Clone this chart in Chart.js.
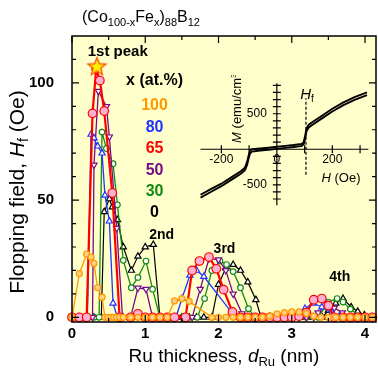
<!DOCTYPE html>
<html>
<head>
<meta charset="utf-8">
<script src="https://cdn.jsdelivr.net/npm/chart.js@4.4.0/dist/chart.umd.min.js"></script>
<style>
html, body { margin: 0; padding: 0; background: #fff; }
#wrap { position: relative; width: 378px; height: 371px; }
#main { position: absolute; left: 0; top: 0; }
#inset { position: absolute; left: 200px; top: 75px; }
</style>
</head>
<body>
<div id="wrap">
<canvas id="main" width="378" height="371"></canvas>
<canvas id="inset" width="172" height="132"></canvas>
</div>
<script>
var FONT = 'Arial, "Liberation Sans", Helvetica, sans-serif';

// Ru thickness d (nm) and flopping field Hf (Oe), one pair per Fe content x (at.%)
var d100 = [0, 0.1, 0.2, 0.26, 0.3, 0.35, 0.41, 0.45, 0.49, 0.53, 0.57, 0.61, 0.65, 0.7, 0.8, 0.9, 1.0, 1.1, 1.2, 1.3, 1.4, 1.5, 1.6, 1.91, 2.0, 2.1, 2.2, 2.3, 2.4, 2.5, 2.6, 2.7, 2.8, 2.9, 3.0, 3.1, 3.2, 3.3, 3.4, 3.5, 3.6, 3.7, 3.8, 3.9, 4.0, 4.1];
var h100 = [0, 18.6, 27, 25.7, 23, 12.6, 8.6, 0, 0, 0, 0, 0, 0, 0, 0, 0, 0, 0, 0, 0, 7, 8, 6.8, 0, 0, 0, 0, 0, 0, 0, 0, 0.5, 1.5, 2, 2.3, 2.3, 1.6, 0.5, 0, 0, 0, 0, 0, 0, 0, 0];

var d80 = [0, 0.1, 0.21, 0.26, 0.3, 0.35, 0.41, 0.45, 0.51, 0.56, 0.62, 0.7, 0.8, 0.9, 1.0, 1.1, 1.2, 1.33, 1.42, 1.5, 1.61, 1.7, 1.8, 2.19, 2.3, 2.4, 2.5, 2.6, 2.7, 2.8, 2.9, 3.0, 3.1, 3.18, 3.29, 3.41, 3.55, 3.65, 3.8, 3.9, 4.0, 4.1];
var h80 = [0, 0, 0, 78, 76.5, 73, 70, 52, 41, 6, 0, 0, 0, 0, 0, 0, 0, 0, 0, 8, 17.9, 20, 17.4, 1.6, 0, 0, 0, 0, 0, 0, 0, 0.5, 1.5, 3.7, 6, 4.4, 2, 0.5, 0, 0, 0, 0];

var d65 = [0, 0.1, 0.2, 0.28, 0.33, 0.38, 0.44, 0.55, 0.65, 0.8, 0.9, 1.0, 1.1, 1.2, 1.3, 1.4, 1.55, 1.64, 1.74, 1.87, 1.97, 2.07, 2.19, 2.3, 2.4, 2.5, 2.6, 2.7, 2.8, 2.9, 3.0, 3.1, 3.2, 3.3, 3.41, 3.5, 3.58, 3.7, 3.8, 3.9, 4.0, 4.1];
var h65 = [0, 0, 0, 87, 106, 101, 88, 53, 0, 0, 1.5, 0, 0, 0, 0, 0, 0, 20, 24, 25.7, 20.7, 11.8, 2.3, 0, 0, 0, 0, 0, 0, 0, 0, 0.5, 2, 7.5, 8, 5, 0, 0, 0, 0, 0, 0];

var d50 = [0, 0.1, 0.2, 0.28, 0.3, 0.36, 0.47, 0.51, 0.61, 0.69, 0.8, 0.9, 1.01, 1.1, 1.2, 1.3, 1.4, 1.5, 1.64, 1.75, 1.87, 2.0, 2.1, 2.2, 2.32, 2.4, 2.5, 2.6, 2.7, 2.8, 2.9, 3.0, 3.1, 3.2, 3.3, 3.36, 3.47, 3.58, 3.69, 3.8, 3.9, 4.0, 4.1];
var h50 = [0, 0, 0, 0, 65, 96.5, 90, 77, 38, 0, 0, 12.5, 12, 0, 0, 0, 0, 0, 0, 12, 25, 24.6, 20, 10, 1.6, 0, 0, 0, 0, 0, 0, 0, 0, 0, 0, 2, 6, 4, 2, 0, 0, 0, 0];

var d30 = [0, 0.1, 0.2, 0.3, 0.37, 0.41, 0.47, 0.56, 0.62, 0.7, 0.81, 0.9, 1.01, 1.1, 1.2, 1.3, 1.4, 1.5, 1.6, 1.71, 1.81, 1.91, 2.02, 2.11, 2.2, 2.3, 2.41, 2.5, 2.6, 2.7, 2.8, 2.9, 3.0, 3.1, 3.2, 3.36, 3.5, 3.62, 3.7, 3.8, 3.94, 4.0, 4.1];
var h30 = [0, 0, 0, 0, 0, 79, 72, 65.5, 48, 24.3, 12.6, 17, 24, 12, 0, 0, 0, 0, 0, 0, 8, 20, 24, 22.5, 19.5, 12.6, 3.7, 0, 0, 0, 0, 0, 0, 0, 0, 0, 6.5, 8, 6.5, 3.5, 0, 0, 0];

var d0 = [0, 0.1, 0.2, 0.3, 0.4, 0.44, 0.51, 0.55, 0.62, 0.7, 0.81, 0.9, 1.0, 1.11, 1.2, 1.3, 1.4, 1.5, 1.6, 1.7, 1.8, 1.91, 2.0, 2.1, 2.2, 2.3, 2.4, 2.51, 2.58, 2.7, 2.8, 2.9, 3.0, 3.1, 3.2, 3.3, 3.42, 3.5, 3.6, 3.7, 3.81, 3.9, 3.99, 4.1];
var h0 = [0, 0, 0, 0, 0, 45, 50.5, 47, 41.6, 30, 20, 26, 30, 31, 0, 0, 0, 0, 0, 0, 0, 0, 14, 21, 22.5, 20, 15, 7.5, 0, 0, 0, 0, 0, 0, 0, 0, 0, 3, 6, 8, 4.4, 2.5, 1, 0];

// 1st peak marker
var starD = [0.34];
var starH = [107];

var xTicks = [0, 1, 2, 3, 4];
var yTicks = [0, 50, 100];

// inset: M-H loop, H (Oe) vs M (emu/cm3), two branches
var loopH = [-275, -240, -200, -160, -130, -115, -107, -102, -97, -90, -60, -30, 0, 30, 60, 90, 97, 102, 107, 115, 130, 160, 200, 240, 280, 325];
var loopUp = [-640, -565, -485, -385, -310, -258, -175, -90, -22, 0, 10, 22, 35, 48, 60, 76, 103, 190, 295, 345, 388, 465, 570, 660, 735, 800];
var loopDown = [-680, -605, -520, -420, -345, -295, -218, -132, -62, -32, -18, -6, 6, 19, 32, 48, 74, 152, 255, 308, 350, 428, 532, 622, 697, 762];
var hfH = [105, 105];
var hfM = [-360, 720];
var insetHTicks = [-200, 0, 200];
var insetMTicks = [500, -500];

var ORANGE = '#ff9900', BLUE = '#2233ff', RED = '#ff0000', PURPLE = '#770a88', GREEN = '#138a13', BLACK = '#000000';

function pts(d, h) {
	return d.map(function(v, i) { return { x: v, y: h[i] }; });
}

function series(d, h, color, fill, style, radius, width, rot, order) {
	return {
		data: pts(d, h), showLine: true, borderColor: color, borderWidth: width,
		pointStyle: style, pointRadius: radius, pointRotation: rot,
		pointBackgroundColor: fill, pointBorderColor: color, pointBorderWidth: 1.2,
		order: order, clip: false
	};
}

function makeStar() {
	var c = document.createElement('canvas');
	c.width = 22; c.height = 22;
	var g = c.getContext('2d');
	g.beginPath();
	for (var i = 0; i < 10; i++) {
		var r = i % 2 ? 4 : 9.5, a = -Math.PI / 2 + i * Math.PI / 5;
		g.lineTo(11 + r * Math.cos(a), 11.5 + r * Math.sin(a));
	}
	g.closePath();
	g.fillStyle = '#ffee00'; g.fill();
	g.strokeStyle = '#ff5500'; g.lineWidth = 1.3; g.stroke();
	return c;
}

// draws a run of text pieces with their own fonts (italic letters, subscripts)
function richText(ctx, parts, x, y, center) {
	var total = 0;
	parts.forEach(function(p) { ctx.font = p.f; p.w = ctx.measureText(p.t).width; total += p.w; });
	var cx = center ? x - total / 2 : x;
	ctx.textAlign = 'left';
	ctx.textBaseline = 'alphabetic';
	parts.forEach(function(p) { ctx.font = p.f; ctx.fillText(p.t, cx, y + (p.dy || 0)); cx += p.w; });
}

var notes = [
	{ t: 'x (at.%)', d: 1.127, h: 100.9, c: BLACK, s: 16 },
	{ t: '100', d: 1.127, h: 90.3, c: ORANGE, s: 16 },
	{ t: '80', d: 1.127, h: 81.0, c: BLUE, s: 16 },
	{ t: '65', d: 1.127, h: 71.8, c: RED, s: 16 },
	{ t: '50', d: 1.127, h: 62.6, c: PURPLE, s: 16 },
	{ t: '30', d: 1.127, h: 53.6, c: GREEN, s: 16 },
	{ t: '0', d: 1.127, h: 44.5, c: BLACK, s: 16 },
	{ t: '1st peak', d: 0.625, h: 113.2, c: BLACK, s: 15 },
	{ t: '2nd', d: 1.223, h: 34.9, c: BLACK, s: 14 },
	{ t: '3rd', d: 2.082, h: 29.1, c: BLACK, s: 14 },
	{ t: '4th', d: 3.656, h: 17.0, c: BLACK, s: 14 }
];

var mainDeco = {
	id: 'mainDeco',
	beforeDraw: function(chart) {
		var a = chart.chartArea, ctx = chart.ctx;
		ctx.save();
		ctx.fillStyle = '#ffffcc';
		ctx.fillRect(a.left, a.top, a.right - a.left, a.bottom - a.top);
		ctx.restore();
	},
	afterDatasetsDraw: function(chart) {
		var a = chart.chartArea, ctx = chart.ctx, xs = chart.scales.x, ys = chart.scales.y;
		ctx.save();
		ctx.strokeStyle = '#000';
		ctx.lineWidth = 1.5;
		ctx.strokeRect(a.left, a.top, a.right - a.left, a.bottom - a.top);
		ctx.lineWidth = 1.2;
		ctx.beginPath();
		for (var v = 0; v <= 4.001; v += 0.5) {
			var px = xs.getPixelForValue(v), len = Math.abs(v - Math.round(v)) < 1e-6 ? 7 : 4;
			ctx.moveTo(px, a.top); ctx.lineTo(px, a.top + len);
			ctx.moveTo(px, a.bottom); ctx.lineTo(px, a.bottom - len);
		}
		for (var w = 0; w <= 110; w += 10) {
			var py = ys.getPixelForValue(w), l2 = w % 50 === 0 ? 7 : 4;
			ctx.moveTo(a.left, py); ctx.lineTo(a.left + l2, py);
			ctx.moveTo(a.right, py); ctx.lineTo(a.right - l2, py);
		}
		ctx.stroke();
		ctx.restore();
	},
	afterDraw: function(chart) {
		var a = chart.chartArea, ctx = chart.ctx, xs = chart.scales.x, ys = chart.scales.y;
		var N = '19px ' + FONT, I = 'italic 19px ' + FONT, S = '13px ' + FONT;
		ctx.save();
		ctx.fillStyle = '#000';
		// composition above the plot
		var T = '16px ' + FONT, TS = '11px ' + FONT;
		richText(ctx, [
			{ t: '(Co', f: T }, { t: '100-x', f: TS, dy: 4 }, { t: 'Fe', f: T }, { t: 'x', f: TS, dy: 4 },
			{ t: ')', f: T }, { t: '88', f: TS, dy: 4 }, { t: 'B', f: T }, { t: '12', f: TS, dy: 4 }
		], 82, 22, false);
		// x title
		richText(ctx, [
			{ t: 'Ru thickness, ', f: N }, { t: 'd', f: I }, { t: 'Ru', f: S, dy: 4 }, { t: ' (nm)', f: N }
		], (a.left + a.right) / 2, 362, true);
		// y title
		var YN = '21px ' + FONT, YI = 'italic 21px ' + FONT, YS = '14px ' + FONT;
		ctx.save();
		ctx.translate(24, 192);
		ctx.rotate(-Math.PI / 2);
		richText(ctx, [
			{ t: 'Flopping field, ', f: YN }, { t: 'H', f: YI }, { t: 'f', f: YS, dy: 4 }, { t: ' (Oe)', f: YN }
		], 0, 0, true);
		ctx.restore();
		// labels inside the plot
		ctx.textAlign = 'center';
		ctx.textBaseline = 'middle';
		notes.forEach(function(n) {
			ctx.font = 'bold ' + n.s + 'px ' + FONT;
			ctx.fillStyle = n.c;
			ctx.fillText(n.t, xs.getPixelForValue(n.d), ys.getPixelForValue(n.h));
		});
		ctx.restore();
	}
};

new Chart(document.getElementById('main'), {
	type: 'scatter',
	data: {
		datasets: [
			{ data: pts(starD, starH), pointStyle: makeStar(), pointRadius: 10, showLine: false, order: 0, clip: false },
			series(d100, h100, ORANGE, '#ffd080', 'circle', 3, 1.3, 0, 1),
			series(d65, h65, RED, '#ffb0d0', 'circle', 4.3, 2.2, 0, 2),
			series(d80, h80, BLUE, '#ffffff', 'triangle', 3.6, 1.3, 0, 3),
			series(d50, h50, PURPLE, '#ffffff', 'triangle', 3.6, 1.3, 180, 4),
			series(d30, h30, GREEN, '#ffffff', 'circle', 2.8, 1.3, 0, 5),
			series(d0, h0, BLACK, '#ffffff', 'triangle', 3.6, 1.2, 0, 6)
		]
	},
	options: {
		responsive: false, animation: false, events: [],
		layout: { autoPadding: false, padding: { top: 36, right: 2, left: 0, bottom: 0 } },
		plugins: { legend: { display: false }, tooltip: { enabled: false } },
		scales: {
			x: {
				type: 'linear', min: 0, max: 4.15,
				afterBuildTicks: function(s) { s.ticks = xTicks.map(function(v) { return { value: v }; }); },
				afterFit: function(s) { s.height = 49; },
				grid: { display: false }, border: { display: false },
				ticks: { autoSkip: false, maxRotation: 0, padding: -5, color: '#000', font: { family: FONT, size: 15, weight: 'bold' } }
			},
			y: {
				min: -2, max: 120,
				afterBuildTicks: function(s) { s.ticks = yTicks.map(function(v) { return { value: v }; }); },
				afterFit: function(s) { s.width = 72; },
				grid: { display: false }, border: { display: false },
				ticks: { autoSkip: false, padding: 10, color: '#000', font: { family: FONT, size: 15, weight: 'bold' } }
			}
		}
	},
	plugins: [mainDeco]
});

var insetAxes = {
	id: 'insetAxes',
	beforeDatasetsDraw: function(chart) {
		var ctx = chart.ctx, xs = chart.scales.x, ys = chart.scales.y;
		var x0 = xs.getPixelForValue(0), y0 = ys.getPixelForValue(0);
		ctx.save();
		ctx.strokeStyle = '#000';
		ctx.lineWidth = 1.2;
		ctx.beginPath();
		ctx.moveTo(xs.getPixelForValue(-275), y0); ctx.lineTo(xs.getPixelForValue(330), y0);
		ctx.moveTo(x0, ys.getPixelForValue(-790)); ctx.lineTo(x0, ys.getPixelForValue(930));
		for (var h = -200; h <= 300; h += 100) {
			if (h === 0) continue;
			var px = xs.getPixelForValue(h);
			ctx.moveTo(px, y0 - 4); ctx.lineTo(px, y0 + 4);
		}
		for (var m = -700; m <= 900; m += 100) {
			if (m === 0) continue;
			var py = ys.getPixelForValue(m);
			ctx.moveTo(x0 - 4, py); ctx.lineTo(x0 + 4, py);
		}
		ctx.stroke();
		ctx.fillStyle = '#000';
		ctx.font = '12px ' + FONT;
		ctx.textAlign = 'center';
		ctx.textBaseline = 'middle';
		insetHTicks.forEach(function(v) { ctx.fillText(String(v), xs.getPixelForValue(v), y0 + 10); });
		ctx.textAlign = 'right';
		insetMTicks.forEach(function(v) { ctx.fillText(String(v), x0 - 10, ys.getPixelForValue(v)); });
		var N = '13px ' + FONT, I = 'italic 13px ' + FONT;
		richText(ctx, [{ t: 'H', f: I }, { t: ' (Oe)', f: N }], 141, 107, true);
		richText(ctx, [{ t: 'H', f: 'italic 15px ' + FONT }, { t: 'f', f: '10px ' + FONT, dy: 3 }], 107, 24, true);
		ctx.save();
		ctx.translate(41, 31);
		ctx.rotate(-Math.PI / 2);
		richText(ctx, [{ t: 'M', f: I }, { t: ' (emu/cm', f: N }, { t: '3', f: '8px ' + FONT, dy: -5 }, { t: ')', f: N }], 0, 0, true);
		ctx.restore();
		ctx.restore();
	}
};

new Chart(document.getElementById('inset'), {
	type: 'scatter',
	data: {
		datasets: [
			{ data: pts(loopH, loopUp), showLine: true, borderColor: '#000', borderWidth: 1.9, pointRadius: 0 },
			{ data: pts(loopH, loopDown), showLine: true, borderColor: '#000', borderWidth: 1.9, pointRadius: 0 },
			{ data: pts(hfH, hfM), showLine: true, borderColor: '#000', borderWidth: 1.2, borderDash: [3, 2], pointRadius: 0 }
		]
	},
	options: {
		responsive: false, animation: false, events: [],
		layout: { autoPadding: false, padding: 0 },
		plugins: { legend: { display: false }, tooltip: { enabled: false } },
		scales: {
			x: { display: false, min: -277, max: 343 },
			y: { display: false, min: -813, max: 1046 }
		}
	},
	plugins: [insetAxes]
});
</script>
</body>
</html>
